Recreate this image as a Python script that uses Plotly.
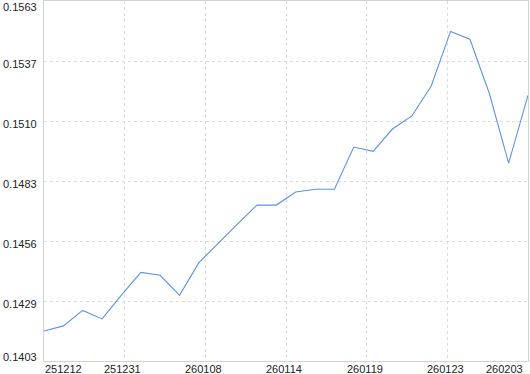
import plotly.graph_objects as go

values = [0.14163, 0.14186, 0.14255, 0.14217, 0.14323, 0.14424, 0.14411, 0.14322,
          0.14467, 0.14554, 0.14639, 0.14723, 0.14723, 0.14781, 0.14793, 0.14793,
          0.14981, 0.14962, 0.15061, 0.15119, 0.15252, 0.15495, 0.15460, 0.15220,
          0.14909, 0.15211]
x_index = list(range(len(values)))

x_tick_labels = ["251212", "251231", "260108", "260114", "260119", "260123", "260203"]
y_tick_labels = ["0.1403", "0.1429", "0.1456", "0.1483", "0.1510", "0.1537", "0.1563"]
y_min, y_max = 0.1403, 0.1563

n_x = len(x_tick_labels)
x_last = len(values) - 1
x_tick_vals = [i * x_last / (n_x - 1) for i in range(n_x)]
n_y = len(y_tick_labels)
y_tick_vals = [y_min + i * (y_max - y_min) / (n_y - 1) for i in range(n_y)]

FONT = dict(family="Liberation Sans, Arial, sans-serif", size=11, color="#222222")
GRID = "#dcdcdc"
BORDER = "#d2d2d2"

fig = go.Figure()
fig.add_trace(go.Scatter(x=x_index, y=values, mode="lines",
                         line=dict(color="#5b93e6", width=1.1),
                         hoverinfo="skip", showlegend=False))

annotations = []
for i, (v, t) in enumerate(zip(x_tick_vals, x_tick_labels)):
    if i == 0:
        anchor, shift = "left", 0
    elif i == n_x - 1:
        anchor, shift = "right", -4
    else:
        anchor, shift = "center", -2
    annotations.append(dict(x=v, xref="x", y=0, yref="paper", text=t,
                            showarrow=False, xanchor=anchor, yanchor="middle",
                            xshift=shift, yshift=-8, font=FONT, borderpad=0))
for i, (v, t) in enumerate(zip(y_tick_vals, y_tick_labels)):
    if i == 0:
        ys = 4
    elif i == n_y - 1:
        ys = -5.5
    else:
        ys = -3
    annotations.append(dict(x=0, xref="paper", y=v, yref="y", text=t,
                            showarrow=False, xanchor="right", yanchor="middle",
                            xshift=-6, yshift=ys, font=FONT, borderpad=0))

fig.update_layout(
    width=530, height=374,
    margin=dict(l=44, r=2, t=1, b=13, pad=0),
    paper_bgcolor="white", plot_bgcolor="white",
    annotations=annotations,
    xaxis=dict(range=[0, x_last], tickvals=x_tick_vals, showticklabels=False,
               showgrid=True, gridcolor=GRID, griddash="3px,3px", gridwidth=1,
               zeroline=False, showline=True, linecolor=BORDER, linewidth=1,
               mirror=True, ticks=""),
    yaxis=dict(range=[y_min, y_max], tickvals=y_tick_vals, showticklabels=False,
               showgrid=True, gridcolor=GRID, griddash="3px,3px", gridwidth=1,
               zeroline=False, showline=True, linecolor=BORDER, linewidth=1,
               mirror=True, ticks=""),
)

fig.write_html("out.html")
